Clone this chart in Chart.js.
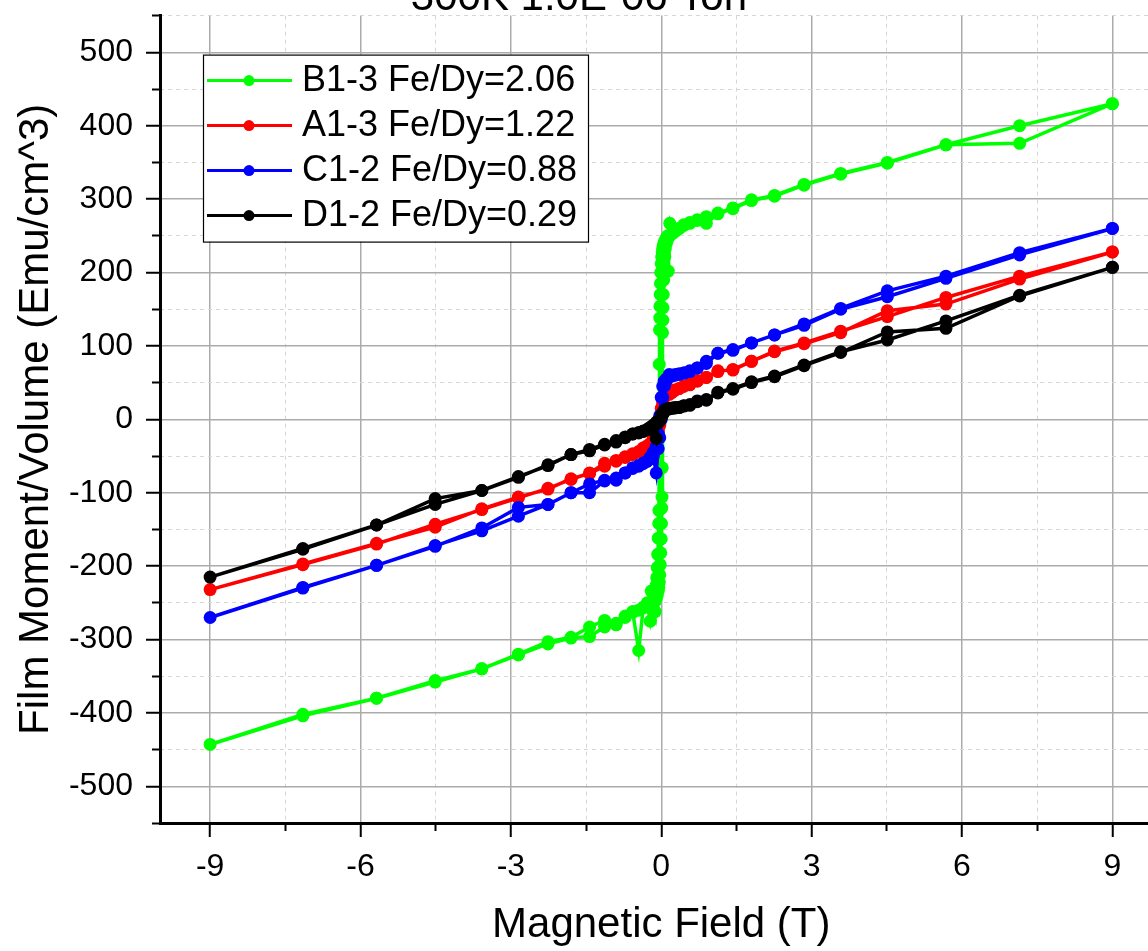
<!DOCTYPE html>
<html><head><meta charset="utf-8">
<style>
html,body{margin:0;padding:0;background:#fff;overflow:hidden;width:1148px;height:951px;position:relative;}
#wrap{position:absolute;left:0;top:-40px;width:1180px;height:991px;}
canvas{display:block;}
</style>
<script src="https://cdn.jsdelivr.net/npm/chart.js@4/dist/chart.umd.min.js"></script>
</head><body><div id="wrap"><canvas id="c" width="1180" height="991"></canvas></div>
<script>
// ---------- data ----------
const chartTitle = '300K 1.0E-06 Torr';
const xTitle = 'Magnetic Field (T)';
const yTitle = 'Film Moment/Volume (Emu/cm^3)';
const seriesLabels = ['B1-3 Fe/Dy=2.06', 'A1-3 Fe/Dy=1.22', 'C1-2 Fe/Dy=0.88', 'D1-2 Fe/Dy=0.29'];

const xTickValues = [-9, -6, -3, 0, 3, 6, 9];
const xMinorTickValues = [-7.5, -4.5, -1.5, 1.5, 4.5, 7.5];
const yTickValues = [-500, -400, -300, -200, -100, 0, 100, 200, 300, 400, 500];
const yMinorTickValues = [-550, -450, -350, -250, -150, -50, 50, 150, 250, 350, 450, 550];

// field sweep (T) for A1-3, C1-2, D1-2 : 9 -> -9 -> 9
const fieldLoop = [
  9, 7.15, 5.68, 4.51, 3.58, 2.85, 2.26, 1.8, 1.43, 1.13, 0.9, 0.72, 0.57, 0.45, 0.36, 0.28, 0.22, 0.16, 0.1, 0.06, 0.03, 0,
  -0.03, -0.06, -0.1, -0.16, -0.22, -0.28, -0.36, -0.45, -0.57, -0.72, -0.9, -1.13, -1.43, -1.8, -2.26, -2.85, -3.58, -4.51, -5.68, -7.15, -9,
  -7.15, -5.68, -4.51, -3.58, -2.85, -2.26, -1.8, -1.43, -1.13, -0.9, -0.72, -0.57, -0.45, -0.36, -0.28, -0.22, -0.16, -0.1, -0.06, -0.03, 0,
  0.03, 0.06, 0.1, 0.16, 0.22, 0.28, 0.36, 0.45, 0.57, 0.72, 0.9, 1.13, 1.43, 1.8, 2.26, 2.85, 3.58, 4.51, 5.68, 7.15, 9
];
const momentA = [
  228, 195, 166, 140, 120, 104, 93, 79, 68, 65, 57, 53, 48, 45, 42, 40, 37, 35, 36, 33, 28, 15,
  -5, -15, -21, -25, -33, -37, -40, -44, -47, -52, -56, -60, -73, -82, -94, -107, -123, -143, -170, -198, -232,
  -197, -169, -147, -122, -106, -95, -81, -74, -64, -57, -51, -48, -45, -39, -36, -34, -29, -23, -18, -8, 8,
  22, 30, 38, 34, 37, 40, 42, 45, 47, 52, 57, 66, 67, 79, 92, 103, 118, 148, 157, 191, 228
];
const momentC = [
  260, 227, 195, 175, 151, 130, 115, 104, 95, 90, 79, 70, 65, 63, 61, 60, 59, 58, 55, 52, 45, 30,
  5, -20, -37, -45, -52, -57, -60, -63, -66, -73, -80, -83, -88, -100, -116, -120, -148, -173, -199, -229, -270,
  -230, -199, -172, -152, -132, -116, -100, -100, -84, -83, -73, -67, -64, -60, -57, -53, -50, -73, -40, -25, 0,
  30, 45, 52, 61, 60, 61, 62, 63, 66, 70, 76, 90, 94, 104, 115, 128, 150, 167, 192, 224, 260
];
const momentD = [
  207, 169, 134, 108, 92, 74, 59, 51, 42, 37, 27, 25, 20, 18, 16, 15.5, 15, 14, 13, 12, 9, 5,
  0, -2, -4, -8, -11, -14, -16, -18, -20, -24, -29, -34, -41, -48, -62, -79, -97, -116, -144, -176, -215,
  -177, -144, -108, -97, -78, -63, -48, -43, -35, -31, -25, -20, -18.5, -16.5, -14, -12, -10, -26, -5, -2, 2,
  7, 10, 14, 15, 15.5, 16, 16.5, 18.5, 19, 24, 26, 36, 41, 50, 58, 73, 91, 119, 124, 168, 207
];

// field sweep (T) for B1-3 (denser near zero)
const fieldB = [
  9, 7.15, 5.68, 4.51, 3.58, 2.85, 2.26, 1.8, 1.43, 1.13, 0.9, 0.72, 0.57, 0.45, 0.36, 0.28, 0.22, 0.17, 0.13, 0.1,
  0.08, 0.06, 0.04, 0.03, 0.02, 0.01, 0, -0.01, -0.015, -0.02, -0.025, -0.03, -0.035, -0.04, -0.045, -0.05, -0.06,
  -0.07, -0.08, -0.09, -0.1, -0.12, -0.2, -0.28, -0.36, -0.45, -0.57, -0.72, -0.9, -1.13, -1.43, -1.8, -2.26, -2.85,
  -3.58, -4.51, -5.68, -7.15, -9,
  -7.15, -5.68, -4.51, -3.58, -2.85, -2.26, -1.8, -1.43, -1.13, -0.9, -0.72, -0.57, -0.45, -0.36, -0.28, -0.22, -0.17,
  -0.12, -0.1, -0.08, -0.06, -0.05, -0.04, -0.03, -0.02, -0.01, 0, 0.005, 0.01, 0.015, 0.02, 0.025, 0.03, 0.035, 0.04,
  0.05, 0.06, 0.07, 0.08, 0.1, 0.12, 0.14, 0.17, 0.22, 0.28, 0.36, 0.45, 0.57, 0.72, 0.9, 1.13, 1.43, 1.8, 2.26, 2.85,
  3.58, 4.51, 5.68, 7.15, 9
];
const momentB = [
  430, 400, 374, 350, 335, 320, 305, 299, 288, 281, 276, 271, 268, 264, 260, 257, 254, 267, 250, 247,
  244, 241, 237, 233, 228, 221, 212, 200, 185, 170, 154, 138, 122, 75, -124, -142, -162,
  -184, -202, -216, -226, -262, -234, -250, -257, -315, -262, -270, -280, -283, -296, -298, -306, -321,
  -340, -358, -380, -404, -443,
  -402, -380, -356, -340, -320, -303, -297, -283, -274, -278, -268, -263, -260, -256, -253, -275, -255,
  -248, -244, -240, -234, -229, -222, -212, -198, -182, -163, -142, -121, -106, -66, 118, 135, 152, 170,
  190, 208, 222, 232, 239, 244, 202, 250, 253, 256, 260, 265, 267, 272, 267, 280, 287, 298, 304, 319,
  334, 349, 374, 376, 430
];

// ---------- styles ----------
const FONT = "'Liberation Sans', Arial, sans-serif";
const seriesColors = ['#00ff00', '#ff0000', '#0000ff', '#000000'];

const pts = (xs, ys) => xs.map((x, i) => ({ x: x, y: ys[i] }));
const seriesData = [pts(fieldB, momentB), pts(fieldLoop, momentA), pts(fieldLoop, momentC), pts(fieldLoop, momentD)];

const datasets = seriesLabels.map((lab, i) => ({
  label: lab,
  data: seriesData[i],
  xAxisID: 'x', yAxisID: 'y',
  showLine: true,
  borderColor: seriesColors[i],
  backgroundColor: seriesColors[i],
  pointBackgroundColor: seriesColors[i],
  pointBorderColor: seriesColors[i],
  borderWidth: 3.5,
  pointRadius: 6.5,
  pointHoverRadius: 6.5,
  pointBorderWidth: 0,
  tension: 0,
  order: 4 - i
}));

const setTicks = (vals) => (scale) => { scale.ticks = vals.map(v => ({ value: v })); };

const boxLegend = {
  id: 'boxLegend',
  afterDatasetsDraw(chart) {
    const ctx = chart.ctx, a = chart.chartArea;
    const bx = a.left + 43, by = a.top + 39, bw = 385, bh = 187;
    ctx.save();
    ctx.fillStyle = '#ffffff';
    ctx.fillRect(bx, by, bw, bh);
    ctx.strokeStyle = '#000000';
    ctx.lineWidth = 1.2;
    ctx.strokeRect(bx + 0.5, by + 0.5, bw, bh);
    seriesLabels.forEach((lab, i) => {
      const cy = by + 26 + i * 45;
      ctx.strokeStyle = seriesColors[i];
      ctx.lineWidth = 3;
      ctx.beginPath();
      ctx.moveTo(bx + 4, cy);
      ctx.lineTo(bx + 89, cy);
      ctx.stroke();
      ctx.fillStyle = seriesColors[i];
      ctx.beginPath();
      ctx.arc(bx + 46, cy, 5.5, 0, Math.PI * 2);
      ctx.fill();
      ctx.fillStyle = '#000000';
      ctx.font = '36px ' + FONT;
      ctx.textAlign = 'left';
      ctx.textBaseline = 'middle';
      ctx.fillText(lab, bx + 99, cy);
    });
    ctx.restore();
  }
};

new Chart(document.getElementById('c'), {
  type: 'scatter',
  data: { datasets: datasets },
  plugins: [boxLegend],
  options: {
    responsive: false,
    devicePixelRatio: 1,
    animation: false,
    layout: { padding: { top: 22, left: 0, right: 17.5, bottom: 0 } },
    plugins: {
      legend: { display: false },
      tooltip: { enabled: false },
      title: {
        display: true, text: chartTitle, color: '#000',
        font: { family: FONT, size: 42, weight: 'normal', lineHeight: 0.8 },
        padding: { top: 0, bottom: 0 }
      }
    },
    scales: {
      x: {
        type: 'linear', position: 'bottom', min: -10, max: 10, weight: 0,
        afterBuildTicks: setTicks(xTickValues),
        afterFit: (s) => { s.height = 128; },
        ticks: { color: '#000', font: { family: FONT, size: 32 }, padding: 11, maxRotation: 0, autoSkip: false,
                 callback: (v) => String(v) },
        grid: { color: '#ababab', lineWidth: 1.5, drawTicks: true, tickLength: 14, tickColor: '#000', tickWidth: 2 },
        border: { display: true, color: '#000', width: 3 },
        title: { display: true, text: xTitle, color: '#000', font: { family: FONT, size: 42 }, padding: { top: 0, bottom: 0 } }
      },
      x2: {
        type: 'linear', axis: 'x', position: 'bottom', min: -10, max: 10, weight: -1,
        afterBuildTicks: setTicks(xMinorTickValues),
        afterFit: (s) => { s.height = 0; },
        ticks: { display: false },
        grid: { color: '#d6d6d6', lineWidth: 1, drawTicks: true, tickLength: 8, tickColor: '#000', tickWidth: 2 },
        border: { display: false, dash: [4, 4] }
      },
      y: {
        type: 'linear', position: 'left', min: -550, max: 550, weight: 0,
        afterBuildTicks: setTicks(yTickValues),
        afterFit: (s) => { s.width = 160; },
        ticks: { color: '#000', font: { family: FONT, size: 32 }, padding: 13, autoSkip: false,
                 callback: (v) => String(v) },
        grid: { color: '#ababab', lineWidth: 1.5, drawTicks: true, tickLength: 14, tickColor: '#000', tickWidth: 2 },
        border: { display: true, color: '#000', width: 3 },
        title: { display: true, text: yTitle, color: '#000', font: { family: FONT, size: 42 }, padding: { top: 11, bottom: 0 } }
      },
      y2: {
        type: 'linear', axis: 'y', position: 'left', min: -550, max: 550, weight: -1,
        afterBuildTicks: setTicks(yMinorTickValues),
        afterFit: (s) => { s.width = 0; },
        ticks: { display: false },
        grid: { color: '#d6d6d6', lineWidth: 1, drawTicks: true, tickLength: 8, tickColor: '#000', tickWidth: 2 },
        border: { display: false, dash: [4, 4] }
      }
    }
  }
});
</script>
</body></html>
